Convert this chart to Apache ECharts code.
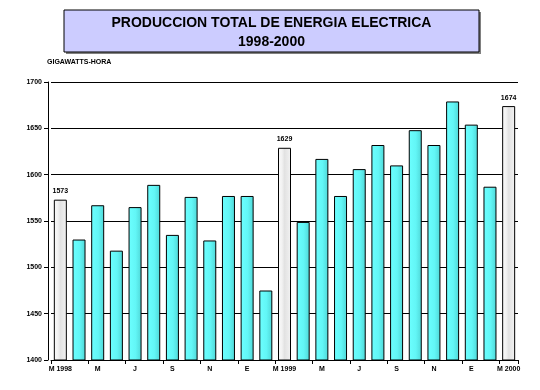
<!DOCTYPE html>
<html>
<head>
<meta charset="utf-8">
<script src="https://cdn.jsdelivr.net/npm/echarts@6/dist/echarts.min.js"></script>
<style>
html,body{margin:0;padding:0;background:#fff;}
#c{width:540px;height:390px;}
</style>
</head>
<body>
<div id="c"></div>
<script>
// Categories: March 1998 .. March 2000 (month initials, Spanish)
var categories = ["M 1998","A","M","J","J","A","S","O","N","D","E","F",
                  "M 1999","A","M","J","J","A","S","O","N","D","E","F",
                  "M 2000"];
// Production, gigawatts-hora
var values = [1573,1530,1567,1518,1565,1589,1535,1576,1529,1577,1577,1475,
              1629,1549,1617,1577,1606,1632,1610,1648,1632,1679,1654,1587,
              1674];
var yTicks = {min:1400, max:1700, step:50};

var titleLine1 = "PRODUCCION TOTAL DE ENERGIA ELECTRICA";
var titleLine2 = "1998-2000";
var unitLabel = "GIGAWATTS-HORA";

var cyanFill = new echarts.graphic.LinearGradient(0,0,1,0,[
  {offset:0,color:'#6CFFFF'},{offset:0.55,color:'#62F6F6'},{offset:1,color:'#4ED6D6'}]);
var whiteFill = new echarts.graphic.LinearGradient(0,0,1,0,[
  {offset:0,color:'#FAFAFA'},{offset:0.3,color:'#F2F2F2'},{offset:0.5,color:'#E2E2E2'},{offset:0.75,color:'#EAEAEA'},{offset:1,color:'#F4F4F4'}]);

var data = values.map(function(v,i){
  var isYear = categories[i].indexOf(' ') >= 0;
  return {
    value: v,
    itemStyle: {color: isYear ? whiteFill : cyanFill, borderColor:'#000', borderWidth:1},
    label: {show: isYear}
  };
});

var chart = echarts.init(document.getElementById('c'));
chart.setOption({
  animation:false,
  backgroundColor:'#fff',
  textStyle:{fontFamily:'Liberation Sans, Arial, sans-serif'},
  graphic:[
    {type:'rect', shape:{x:66,y:12,width:415,height:42}, style:{fill:'#808080'}, silent:true},
    {type:'rect', shape:{x:64,y:10,width:415,height:42}, style:{fill:'#CCCCFF',stroke:'#000',lineWidth:1}, silent:true},
    {type:'text', x:271.5, y:23, style:{text:titleLine1, fill:'#000', font:'bold 14px "Liberation Sans", Arial, sans-serif', align:'center', verticalAlign:'middle'}, silent:true},
    {type:'text', x:271.5, y:42, style:{text:titleLine2, fill:'#000', font:'bold 14px "Liberation Sans", Arial, sans-serif', align:'center', verticalAlign:'middle'}, silent:true},
    {type:'text', x:47, y:62, style:{text:unitLabel, fill:'#000', font:'bold 7px "Liberation Sans", Arial, sans-serif', align:'left', verticalAlign:'middle'}, silent:true}
  ],
  grid:{left:51, right:22, top:82, bottom:30, containLabel:false},
  xAxis:{
    type:'category',
    data:categories,
    axisLine:{lineStyle:{color:'#000',width:1}},
    axisTick:{show:true, length:4, lineStyle:{color:'#000'}},
    axisLabel:{interval:1, color:'#000', fontSize:7, fontWeight:'bold', margin:6},
    splitLine:{show:false}
  },
  yAxis:{
    type:'value',
    min:yTicks.min, max:yTicks.max, interval:yTicks.step,
    offset:3,
    axisLine:{show:true, lineStyle:{color:'#000',width:1}},
    axisTick:{show:true, length:4, lineStyle:{color:'#000'}},
    axisLabel:{color:'#000', fontSize:7, fontWeight:'bold', margin:6, formatter:function(v){return String(v);}},
    splitLine:{show:true, lineStyle:{color:'#000',width:1}}
  },
  series:[{
    type:'bar',
    data:data,
    barWidth:13,
    label:{position:'top', color:'#000', fontSize:7, fontWeight:'bold', distance:5}
  }]
});
</script>
</body>
</html>
